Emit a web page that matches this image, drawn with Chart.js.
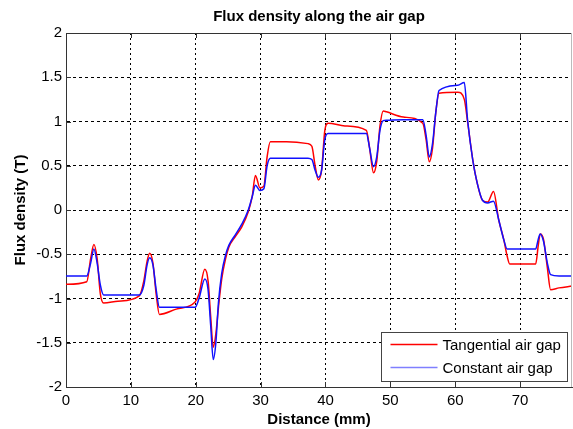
<!DOCTYPE html>
<html><head><meta charset="utf-8">
<script src="https://cdn.jsdelivr.net/npm/chart.js@4.4.0/dist/chart.umd.min.js"></script>
<style>html,body{margin:0;padding:0;background:#fff;}canvas{display:block;}</style>
</head><body>
<canvas id="c" width="573" height="429" style="width:573px;height:429px"></canvas>
<script>
const distance = [0, 3.2, 3.8, 4.3, 4.8, 5.3, 5.8, 8, 11.3, 12.0,
  12.5, 12.9, 13.4, 13.9, 14.4, 17, 19.9, 20.5, 21.4, 21.9,
  22.3, 22.7, 23.1, 23.5, 24.0, 24.6, 25.1, 26.1, 27.1, 28.1,
  28.7, 29.2, 29.9, 30.5, 31.0, 31.5, 34, 37.3, 37.9, 38.4,
  38.9, 39.4, 39.9, 40.4, 43, 46.3, 46.8, 47.4, 47.9, 48.4,
  48.9, 49.4, 52, 55.0, 55.5, 56.0, 56.5, 57.0, 57.5, 60.4,
  61.4, 61.9, 62.7, 63.4, 64.2, 65.0, 65.9, 66.7, 67.5, 68.0,
  68.4, 72.4, 72.8, 73.1, 73.6, 74.2, 74.7, 76, 78];
const tangential = [-0.84, -0.81, -0.55, -0.39, -0.55, -0.95, -1.05, -1.03, -0.97, -0.8,
  -0.58, -0.49, -0.6, -0.95, -1.18, -1.12, -1.04, -0.95, -0.67, -0.8,
  -1.2, -1.55, -1.4, -1.1, -0.78, -0.55, -0.42, -0.3, -0.19, -0.02,
  0.15, 0.39, 0.25, 0.27, 0.6, 0.77, 0.77, 0.75, 0.72, 0.5,
  0.34, 0.45, 0.9, 0.98, 0.95, 0.9, 0.7, 0.42, 0.55, 0.95,
  1.12, 1.11, 1.05, 0.98, 0.8, 0.545, 0.7, 1.1, 1.32, 1.33,
  1.25, 1.0, 0.57, 0.3, 0.11, 0.09, 0.21, -0.11, -0.34, -0.52,
  -0.61, -0.61, -0.4, -0.27, -0.33, -0.65, -0.9, -0.88, -0.86];
const constant = [-0.745, -0.745, -0.6, -0.44, -0.6, -0.85, -0.96, -0.96, -0.96, -0.85,
  -0.62, -0.54, -0.62, -0.9, -1.1, -1.1, -1.1, -1.0, -0.78, -0.9,
  -1.3, -1.69, -1.5, -1.05, -0.72, -0.51, -0.4, -0.28, -0.16, 0.0,
  0.15, 0.28, 0.22, 0.24, 0.5, 0.585, 0.585, 0.585, 0.57, 0.45,
  0.37, 0.45, 0.8, 0.865, 0.865, 0.865, 0.7, 0.49, 0.6, 0.9,
  1.01, 1.015, 1.02, 1.02, 0.85, 0.6, 0.75, 1.1, 1.35, 1.41,
  1.44, 1.02, 0.565, 0.3, 0.11, 0.08, 0.1, -0.11, -0.34, -0.44,
  -0.44, -0.44, -0.33, -0.27, -0.35, -0.6, -0.73, -0.745, -0.745];
const xTicks = [0, 10, 20, 30, 40, 50, 60, 70];
const yTicks = [-2, -1.5, -1, -0.5, 0, 0.5, 1, 1.5, 2];
const seriesLabels = ['Tangential air gap', 'Constant air gap'];
const chartTitle = 'Flux density along the air gap';
const xTitle = 'Distance (mm)';
const yTitle = 'Flux density (T)';

const FONT = '"Liberation Sans", Arial, sans-serif';
Chart.defaults.font.family = FONT;
Chart.defaults.color = '#000';

const toPts = (xs, ys) => xs.map((x, i) => ({x, y: ys[i]}));

const framePlugin = {
  id: 'frame',
  afterDraw(chart) {
    const {ctx, chartArea: a, scales: {x, y}} = chart;
    ctx.save();
    // title centred over the plot area
    ctx.fillStyle = '#000';
    ctx.font = 'bold 15px ' + FONT;
    ctx.textAlign = 'center';
    ctx.textBaseline = 'middle';
    ctx.fillText(chartTitle, (a.left + a.right) / 2, 17);
    ctx.lineWidth = 1;
    ctx.strokeStyle = '#333';
    ctx.beginPath();
    ctx.moveTo(a.left, Math.round(a.top) + 0.5);
    ctx.lineTo(a.right, Math.round(a.top) + 0.5);
    ctx.stroke();
    ctx.strokeStyle = '#bbb';
    ctx.beginPath();
    ctx.moveTo(Math.round(a.right) - 0.5, a.top);
    ctx.lineTo(Math.round(a.right) - 0.5, a.bottom);
    ctx.stroke();
    // inner tick marks
    ctx.strokeStyle = '#333';
    ctx.beginPath();
    xTicks.forEach(v => {
      const px = Math.round(x.getPixelForValue(v)) + 0.5;
      ctx.moveTo(px, a.bottom); ctx.lineTo(px, a.bottom - 5);
      ctx.moveTo(px, a.top); ctx.lineTo(px, a.top + 5);
    });
    yTicks.forEach(v => {
      const py = Math.round(y.getPixelForValue(v)) + 0.5;
      ctx.moveTo(a.left, py); ctx.lineTo(a.left + 5, py);
    });
    ctx.stroke();
    // legend
    const w = 186, h = 49;
    const bx = Math.round(a.right - 5 - w) + 0.5;
    const by = Math.round(a.bottom - 6 - h) + 0.5;
    ctx.fillStyle = '#fff';
    ctx.fillRect(bx, by, w, h);
    ctx.strokeStyle = '#444';
    ctx.strokeRect(bx, by, w, h);
    const colors = ['#ff0000', '#7f7fff'];
    ctx.font = '15px ' + FONT;
    ctx.textBaseline = 'middle';
    ctx.textAlign = 'left';
    seriesLabels.forEach((lab, i) => {
      const ly = by + 12 + i * 23;
      ctx.strokeStyle = colors[i];
      ctx.lineWidth = 1.5;
      ctx.beginPath();
      ctx.moveTo(bx + 9, ly); ctx.lineTo(bx + 56, ly);
      ctx.stroke();
      ctx.fillStyle = '#000';
      ctx.fillText(lab, bx + 61, ly + 1);
    });
    ctx.restore();
  }
};

new Chart(document.getElementById('c'), {
  type: 'line',
  data: {
    datasets: [
      {label: seriesLabels[0], data: toPts(distance, tangential), borderColor: '#ff0000',
       borderWidth: 1.5, pointRadius: 0, cubicInterpolationMode: 'monotone', fill: false, order: 1},
      {label: seriesLabels[1], data: toPts(distance, constant), borderColor: '#1010ff',
       borderWidth: 1.5, pointRadius: 0, cubicInterpolationMode: 'monotone', fill: false, order: 0}
    ]
  },
  options: {
    responsive: false,
    animation: false,
    devicePixelRatio: 1,
    layout: {padding: {left: 0, right: 1, top: 33, bottom: 0}},
    plugins: {
      legend: {display: false},
      tooltip: {enabled: false},
      title: {display: false}
    },
    scales: {
      x: {
        type: 'linear', min: 0, max: 78,
        afterBuildTicks: s => { s.ticks = xTicks.map(v => ({value: v})); },
        afterFit: s => { s.height = 42; },
        ticks: {callback: v => String(v), font: {size: 15}, padding: 5, maxRotation: 0, color: '#000'},
        grid: {color: '#000', drawTicks: false, lineWidth: 1},
        border: {display: true, color: '#333', width: 1, dash: [2, 3]},
        title: {display: true, text: xTitle, font: {size: 15, weight: 'bold'}, padding: {top: 0, bottom: 0}, color: '#000'}
      },
      y: {
        type: 'linear', min: -2, max: 2,
        afterBuildTicks: s => { s.ticks = yTicks.map(v => ({value: v})); },
        afterFit: s => { s.width = 66; },
        ticks: {callback: v => String(v), font: {size: 15}, padding: 4, color: '#000'},
        grid: {color: '#000', drawTicks: false, lineWidth: 1},
        border: {display: true, color: '#333', width: 1, dash: [3, 3]},
        title: {display: true, text: yTitle, font: {size: 15, weight: 'bold'}, padding: {top: 12, bottom: 0}, color: '#000'}
      }
    }
  },
  plugins: [framePlugin]
});
</script>
</body></html>
